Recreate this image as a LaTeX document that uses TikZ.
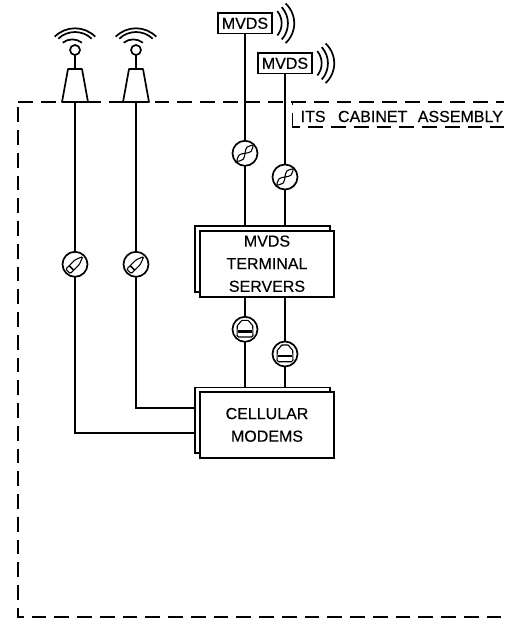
\documentclass[tikz,border=0pt]{standalone}
\usepackage{fontspec}
\setmainfont[FakeBold=0.3]{Liberation Sans}
\tikzset{
  wire/.style={line width=1.7pt},
  frameline/.style={line width=1.7pt, dash pattern=on 14.75pt off 8pt},
  thin glyph/.style={line width=1.1pt, line join=round},
  unitbox/.style={draw, line width=1.7pt, fill=white, inner sep=0pt, outer sep=0pt, font=\fontsize{16}{22.6}\selectfont, align=center},
  tagbox/.style={unitbox, minimum width=54.5pt, minimum height=20.5pt},
  rackbox/.style={unitbox, minimum width=134.5pt},
  symbol/.style={draw, circle, line width=1.7pt, fill=white, minimum size=25pt, inner sep=0pt, outer sep=0pt},
  aerial/.style={draw, circle, line width=1.7pt, fill=white, minimum size=10pt, inner sep=0pt, outer sep=0pt},
  label text/.style={inner sep=0pt, anchor=base west, font=\fontsize{16}{18}\selectfont}
}
\newcommand{\twistglyph}[1]{\begin{scope}[shift={(#1)},thin glyph]
  \draw plot[smooth,tension=0.8] coordinates {(-8,8) (-6.1,1.9) (0,0) (6.1,-1.9) (8,-8)};
  \draw plot[smooth,tension=0.8] coordinates {(-8,8) (-1.9,6.1) (0,0) (1.9,-6.1) (8,-8)};
\end{scope}}
\newcommand{\coaxglyph}[1]{\begin{scope}[shift={(#1)},thin glyph]
  \draw[rounded corners=1.2pt] (-9.33,4.81) -- (-4.81,9.33) -- (4.38,0.14) -- (6.5,-4.8) -- (7.8,-7.8) -- (4.8,-6.5) -- (-0.14,-4.38) -- cycle;
  \draw[line width=1.6pt] (-5.8,1.28) -- (-1.28,5.8);
\end{scope}}
\newcommand{\jackglyph}[1]{\begin{scope}[shift={(#1)},thin glyph]
  \draw[rounded corners=1.5pt] (-4.5,-9) -- (4.5,-9) -- (4.5,-6) -- (7.7,-5) -- (8,7.7) -- (-8,7.7) -- (-7.7,-5) -- (-4.5,-6) -- cycle;
  \fill (-6.8,0.7) rectangle (6.8,3.3);
\end{scope}}
\newcommand{\wavesright}[1]{\begin{scope}[shift={(#1)},wire]
  \draw ([shift={(-39:19.4)}]-10,0) arc[start angle=-39,end angle=39,radius=19.4];
  \draw ([shift={(-42:24.1)}]-8.4,0) arc[start angle=-42,end angle=42,radius=24.1];
  \draw ([shift={(-47:27)}]-5,0) arc[start angle=-47,end angle=47,radius=27];
\end{scope}}
\newcommand{\wavesup}[1]{\begin{scope}[shift={(#1)},wire]
  \draw (-12.3,-7.3) arc[start angle=-128,end angle=-52,radius=15.6];
  \draw (-16.7,-11.3) arc[start angle=-133.6,end angle=-46.4,radius=24.2];
  \draw (-20.3,-13.3) arc[start angle=-135,end angle=-45,radius=28.7];
\end{scope}}
\begin{document}
\begin{tikzpicture}[x=1pt,y=-1pt]
\useasboundingbox (0,0) rectangle (504,621);
\fill[white] (0,0) rectangle (504,621);
% cabinet frame
\draw[frameline] (18,102) -- (504,102);
\draw[frameline] (18,107.3) -- (18,617) -- (504,617);
\draw[wire] (292.5,102) -- (292.5,105);
\draw[wire] (292.5,113) -- (292.5,127) -- (300,127);
\draw[frameline] (308.3,127) -- (504,127);
\node[label text] (cablabel) at (300.5,122) {ITS \hspace{8pt}CABINET \hspace{6pt}ASSEMBLY};
% boxes
\node[tagbox] (mvdsa) at (245,23.3) {MVDS};
\node[tagbox] (mvdsb) at (285,63.3) {MVDS};
\wavesright{mvdsa.east}
\wavesright{mvdsb.east}
\node[rackbox, minimum height=66.3pt] (tsback) at (262.5,259) {};
\node[rackbox, minimum height=65.7pt] (cmback) at (262.5,420.2) {};
% symbols
\node[symbol] (twa) at (245,153.3) {};
\node[symbol] (twb) at (285,177) {};
\node[symbol] (rja) at (245,329.3) {};
\node[symbol] (rjb) at (285,354) {};
\node[symbol] (cxa) at (75,264.3) {};
\node[symbol] (cxb) at (136,264.3) {};
\twistglyph{twa}
\twistglyph{twb}
\jackglyph{rja}
\jackglyph{rjb}
\coaxglyph{cxa}
\coaxglyph{cxb}
% antennas
\node[aerial] (anta) at (75,50) {};
\node[aerial] (antb) at (136,50) {};
\wavesup{anta}
\wavesup{antb}
\coordinate (horna) at (75,69);
\coordinate (hornb) at (136,69);
\draw[wire, line join=round] (68,69) -- (82,69) -- (88,102) -- (62,102) -- cycle;
\draw[wire, line join=round] (129,69) -- (143,69) -- (149,102) -- (123,102) -- cycle;
\draw[wire] (anta) -- (horna);
\draw[wire] (antb) -- (hornb);
\coordinate (basea) at (75,102);
\coordinate (baseb) at (136,102);
% connectors
\draw[wire] (mvdsa) -- (twa);
\draw[wire] (mvdsb) -- (twb);
\draw[wire] (twa) -- (twa |- tsback.north);
\draw[wire] (twb) -- (twb |- tsback.north);
\coordinate (cmtopa) at (rja |- cmback.north);
\coordinate (cmtopb) at (rjb |- cmback.north);
\draw[wire] (rja) -- (cmtopa);
\draw[wire] (rjb) -- (cmtopb);
\draw[wire] (basea) -- (cxa);
\draw[wire] (baseb) -- (cxb);
\coordinate (cmleftb) at (cmback.west |- 0,407.7);
\coordinate (cmlefta) at (cmback.west |- 0,432.7);
\draw[wire] (cxb) |- (cmleftb);
\draw[wire] (cxa) |- (cmlefta);
% front boxes
\node[rackbox, minimum height=66pt] (ts) at (267,263.7) {MVDS\\TERMINAL\\SERVERS};
\node[rackbox, minimum height=66.3pt] (cm) at (267,424.9) {CELLULAR\\MODEMS};
\draw[wire] (rja) -- (rja |- ts.south);
\draw[wire] (rjb) -- (rjb |- ts.south);
\end{tikzpicture}
\end{document}
